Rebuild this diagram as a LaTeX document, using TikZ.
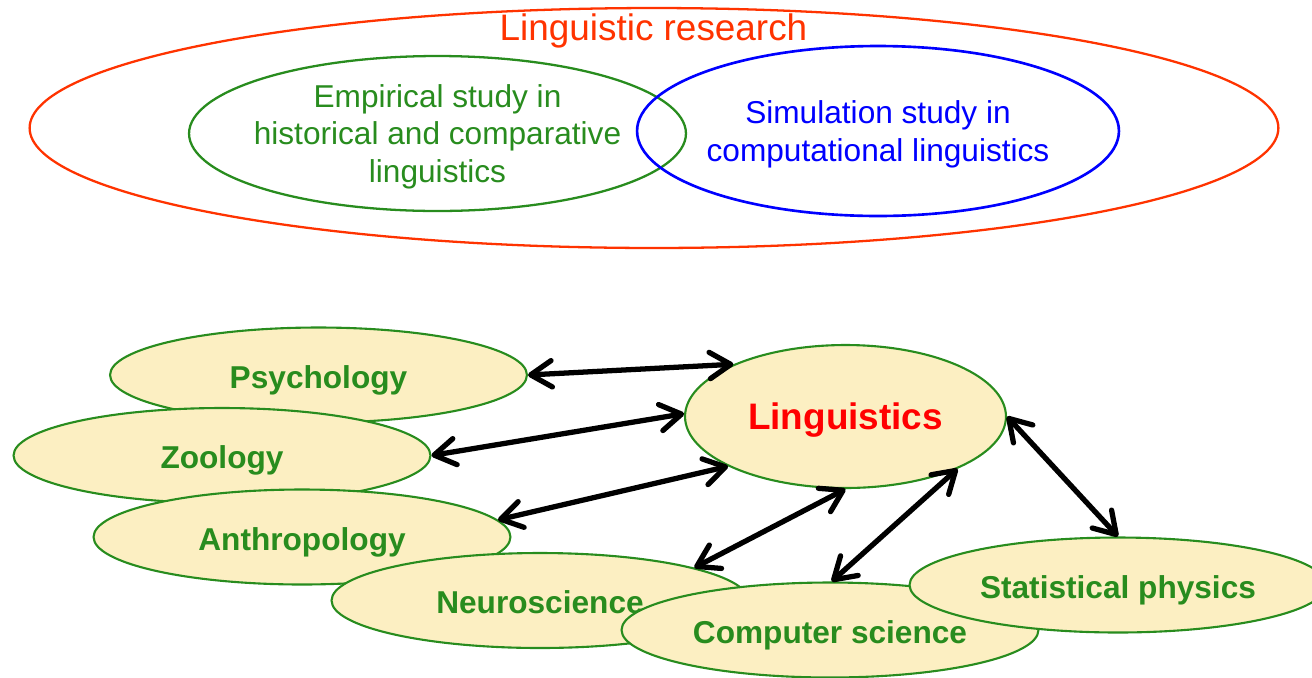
\documentclass[tikz,border=0pt]{standalone}
\usepackage{fontspec}
\setmainfont{Liberation Sans}
\usetikzlibrary{shapes.geometric,arrows.meta}
\definecolor{leafgreen}{RGB}{40,140,30}
\definecolor{creamfill}{RGB}{252,239,194}
\definecolor{orangered}{RGB}{255,51,0}
\definecolor{purered}{RGB}{255,0,0}
\definecolor{pureblue}{RGB}{0,0,255}
\tikzset{
  outline/.style={ellipse, inner sep=0pt, line width=1.3pt},
  field/.style={ellipse, draw=leafgreen, fill=creamfill, line width=1.2pt,
    inner sep=0pt, minimum width=8.34cm, minimum height=1.9cm,
    text=leafgreen, font=\fontsize{18}{21}\selectfont\bfseries,
    text height=17pt, text depth=2pt},
  link/.style={line width=3pt, {Straight Barb[length=12pt,width=15pt,round]}-{Straight Barb[length=12pt,width=15pt,round]}}
}
\newcommand{\topstrut}{\rule{0pt}{16.8pt}}
\begin{document}
\begin{tikzpicture}[x=0.02cm,y=-0.02cm]
\useasboundingbox (0,0) rectangle (1312,677);

% research areas
\node[outline, draw=orangered, minimum width=24.98cm, minimum height=4.8cm] (res) at (654,128) {};
\node[text=orangered, font=\fontsize{21}{25}\selectfont, anchor=base] (restitle) at (653.5,40) {Linguistic research};
\node[outline, draw=leafgreen, minimum width=9.94cm, minimum height=3.1cm] (emp) at (437.5,133.5) {};
\node[text=leafgreen, align=center, inner sep=0pt, font=\fontsize{18}{21.5}\selectfont] (emptext) at (emp.center)
  {\topstrut Empirical study in\\historical and comparative\\linguistics};
\node[outline, draw=pureblue, line width=1.5pt, minimum width=9.64cm, minimum height=3.4cm] (sim) at (878,131) {};
\node[text=pureblue, align=center, inner sep=0pt, font=\fontsize{18}{22.1}\selectfont] (simtext) at (sim.center)
  {\topstrut Simulation study in\\computational linguistics};

% neighbouring disciplines
\node[field] (psy) at (318.5,375) {Psychology};
\node[field] (zoo) at (222,455.5) {Zoology};
\node[field] (ant) at (302,537) {Anthropology};
\node[field] (neu) at (540,600.5) {Neuroscience};
\node[field] (cs) at (830,630) {Computer science};
\node[field] (sp) at (1118,585) {Statistical physics};
\node[field, minimum width=6.42cm, minimum height=2.86cm, text=purered,
  font=\fontsize{21}{25}\selectfont\bfseries] (ling) at (845.5,416.5) {Linguistics};

% links to linguistics
\draw[link] (psy.east) -- (ling.155.6);
\draw[link] (zoo.east) -- (ling.179);
\draw[link] (ant.5) -- (ling.203.6);
\draw[link] (neu.12.4) -- (ling.270);
\draw[link] (cs.88) -- (ling.335.4);
\draw[link] (ling.east) -- (sp.north);
\end{tikzpicture}
\end{document}
